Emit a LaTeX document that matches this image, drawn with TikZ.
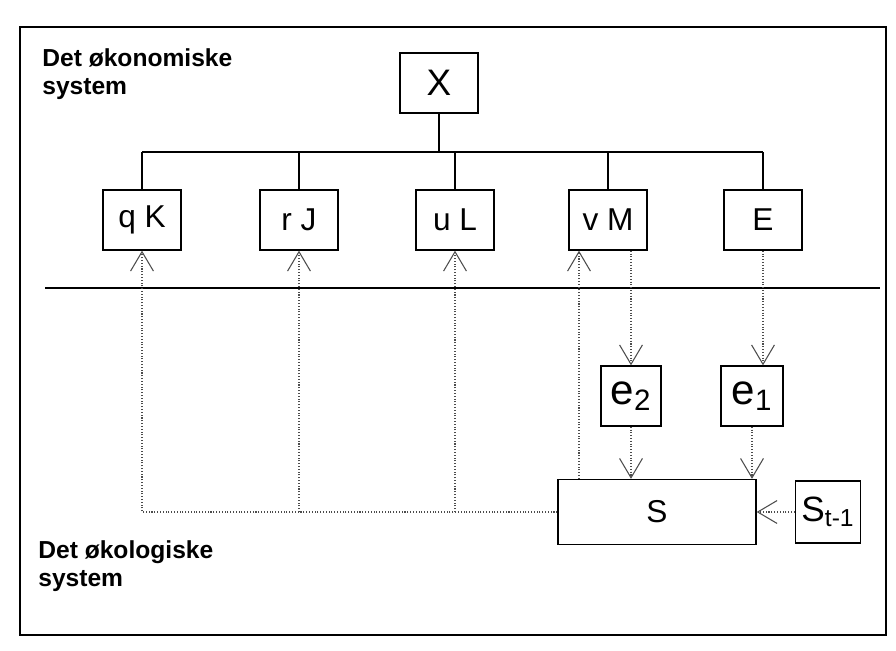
\documentclass[tikz,border=0pt]{standalone}
\usepackage{fontspec}
\setmainfont{Liberation Sans}
\usepackage{tikz}
\usetikzlibrary{arrows.meta,positioning}

\begin{document}
\begin{tikzpicture}[x=0.02cm, y=-0.02cm,
  box/.style={draw, thick, rectangle, text centered, inner sep=0pt,
    minimum width=1.56cm, minimum height=1.2cm, font=\fontsize{18}{20}\selectfont},
  flow/.style={densely dotted, semithick, gray!60!black,
    -{Straight Barb[length=11pt,width=13pt]}},
  comment/.style={anchor=north west, align=left, inner sep=0pt,
    font=\fontsize{14}{16}\selectfont\bfseries}]
\useasboundingbox (0,0) rectangle (896,650);
\draw [thick] (20,27) rectangle (886,635);

\node [comment] (oekonomi) at (42,48) {Det økonomiske\\system};
\node [comment] (oekologi) at (38,540) {Det økologiske\\system};

\node [box, font=\fontsize{21}{24}\selectfont] (X) at (439,83) {X};
\node [box] (qK) at (142,220) {q K};
\node [box] (rJ) at (299,220) {r J};
\node [box] (uL) at (455,220) {u L};
\node [box] (vM) at (608,220) {v M};
\node [box] (E) at (763,220) {E};

\coordinate (bus) at (439,152);
\draw [thick] (X) -- (bus);
\draw [thick] (qK.north |- bus) -- (E.north |- bus);
\foreach \b in {qK,rJ,uL,vM,E}
  \draw [thick] (\b.north |- bus) -- (\b.north);

\draw [thick] (45,288) -- (880,288);

\node [box, minimum width=1.2cm, font=\fontsize{24}{26}\selectfont] (e2) at (631,396) {e\textsubscript{2}};
\node [box, minimum width=1.24cm, font=\fontsize{24}{26}\selectfont] (e1) at (752,396) {e\textsubscript{1}};
\node [box, minimum width=3.96cm, minimum height=1.3cm] (S) at (657,512) {S};
\node [box, minimum width=1.3cm, minimum height=1.24cm, font=\fontsize{20}{22}\selectfont] (St) at (828,512) {S\textsubscript{t-1}};

% from the ecological system up to the economic one
\draw [flow] (S.west) -| (qK.south);
\foreach \b in {rJ,uL}
  \draw [flow] (\b.south |- S.west) -- (\b.south);
\coordinate (vMup) at ([xshift=-0.58cm]vM.south);
\draw [flow] (vMup |- S.north) -- (vMup);

% emissions
\draw [flow] (vM.south -| e2.north) -- (e2.north);
\draw [flow] (E.south) -- (E.south |- e1.north);
\draw [flow] (e2.south) -- (e2.south |- S.north);
\draw [flow] (e1.south) -- (e1.south |- S.north);
\draw [flow] (St.west) -- (S.east);
\end{tikzpicture}
\end{document}
